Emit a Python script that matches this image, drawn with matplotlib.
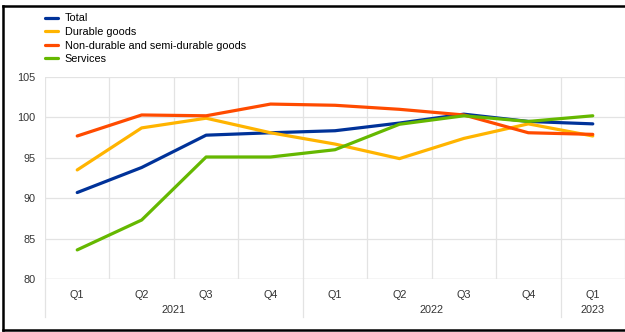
import numpy as np
import matplotlib.pyplot as plt
from matplotlib.lines import Line2D

plt.rcParams['font.family'] = ['Liberation Sans', 'DejaVu Sans']

quarters = ["Q1", "Q2", "Q3", "Q4", "Q1", "Q2", "Q3", "Q4", "Q1"]
years = ["2021", "2022", "2023"]
year_pos = [1.5, 5.5, 8]

total = [90.7, 93.8, 97.8, 98.1, 98.35, 99.3, 100.4, 99.5, 99.2]
durable = [93.5, 98.7, 99.9, 98.1, 96.7, 94.9, 97.4, 99.2, 97.7]
non_durable = [97.7, 100.3, 100.2, 101.65, 101.5, 101.0, 100.3, 98.1, 97.9]
services = [83.6, 87.3, 95.1, 95.1, 96.0, 99.15, 100.2, 99.5, 100.2]

names = ["Total", "Durable goods", "Non-durable and semi-durable goods", "Services"]
colors = ["#003299", "#FFB400", "#FF4B00", "#65B800"]

W, H = 625, 332
fig = plt.figure(figsize=(W / 100, H / 100), dpi=100)
ax = fig.add_axes([45 / W, 1 - 279 / H, 1 - 45 / W, (279 - 77) / H])

x = np.arange(len(quarters))
series = [total, durable, non_durable, services]
handles = []
for s, c, n in zip(series, colors, names):
    h, = ax.plot(x, s, color=c, lw=2.3, label=n, solid_capstyle='round', zorder=3)
    handles.append(h)

ax.set_xlim(-0.5, -0.5 + 580 / 65.9)
ax.set_ylim(80, 105)
ax.set_yticks([80, 85, 90, 95, 100, 105])
ax.set_xticks(x)
ax.set_xticklabels(quarters)
ax.tick_params(length=0, labelsize=7.8, labelcolor="#333333")
ax.tick_params(axis='y', pad=7)
ax.tick_params(axis='x', pad=8)

ax.set_xticks(np.arange(-0.5, 9, 1), minor=True)
ax.grid(True, which='minor', axis='x', color="#e3e3e3", lw=0.9)
ax.grid(True, which='major', axis='y', color="#e3e3e3", lw=0.9)
ax.tick_params(which='minor', length=0)
for sp in ax.spines.values():
    sp.set_visible(False)
ax.axhline(80, color="#dddddd", lw=1.0, zorder=1)

# year labels and separators below the axis
for yr, p in zip(years, year_pos):
    ax.text(p, -0.155, yr, transform=ax.get_xaxis_transform(), ha='center', va='center',
            fontsize=7.8, color="#333333")
for b in [-0.5, 3.5, 7.5]:
    ax.plot([b, b], [0, -0.19], transform=ax.get_xaxis_transform(), color="#e3e3e3",
            lw=0.9, clip_on=False)

ax.legend(handles=handles, loc='upper left', bbox_to_anchor=(40 / W, 1 - 8 / H),
          bbox_transform=fig.transFigure, frameon=False, fontsize=7.8,
          handlelength=1.2, handletextpad=0.6, labelspacing=0.33, borderpad=0)

# outer frame
fig.add_artist(Line2D([3 / W, 3 / W], [1 - 6 / H, 1 - 330 / H], color='black', lw=1.8))
fig.add_artist(Line2D([3 / W, 1], [1 - 6 / H, 1 - 6 / H], color='black', lw=1.8))
fig.add_artist(Line2D([3 / W, 1], [1 - 330 / H, 1 - 330 / H], color='black', lw=1.8))

fig.savefig("out.png", dpi=100)
